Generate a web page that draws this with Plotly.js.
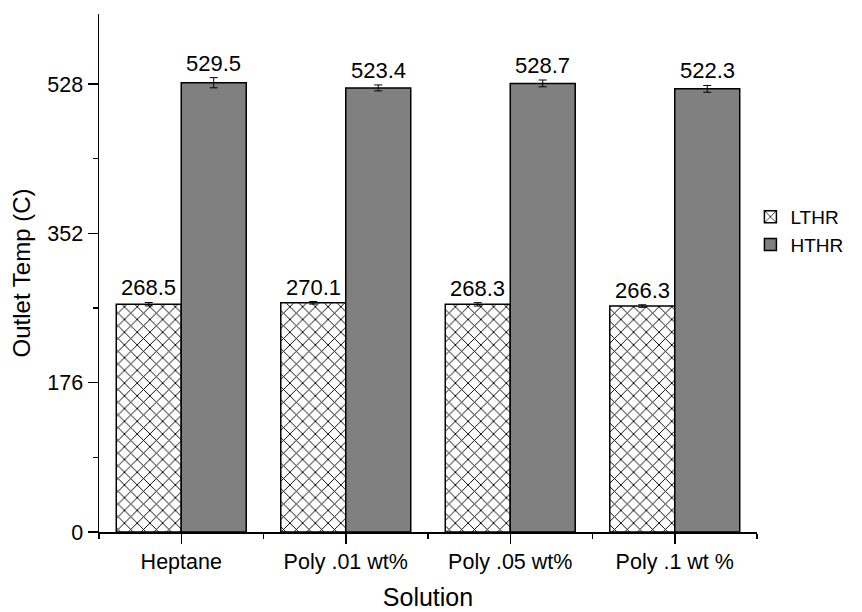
<!DOCTYPE html>
<html>
<head>
<meta charset="utf-8">
<script src="https://cdn.plot.ly/plotly-3.0.1.min.js"></script>
<style>html,body{margin:0;padding:0;background:#fff;}#chart{width:862px;height:612px;}</style>
</head>
<body>
<div id="chart"></div>
<script>
var categories = ["Heptane", "Poly .01 wt%", "Poly .05 wt%", "Poly .1 wt %"];
var lthrValues = [268.5, 270.1, 268.3, 266.3];
var lthrErrors = [2.0, 1.5, 2.0, 1.5];
var hthrValues = [529.5, 523.4, 528.7, 522.3];
var hthrErrors = [6.0, 3.5, 4.0, 4.0];
var yTickVals = [0, 176, 352, 528];

var FONT = "Liberation Sans, Arial, sans-serif";
var bargap = 0.21;
var idx = categories.map(function(c, i){ return i; });
var half = (1 - bargap) / 4;

var traces = [
  {
    type: "bar", name: "LTHR", x: idx, y: lthrValues,
    marker: {color: "white", line: {color: "black", width: 1.5},
      pattern: {shape: "x", fgcolor: "black", bgcolor: "white", size: 9, solidity: 0.2}},
    error_y: {type: "data", array: lthrErrors, color: "black", thickness: 1, width: 4},
    hoverinfo: "none"
  },
  {
    type: "bar", name: "HTHR", x: idx, y: hthrValues,
    marker: {color: "#808080", line: {color: "black", width: 1.5}},
    error_y: {type: "data", array: hthrErrors, color: "black", thickness: 1, width: 4},
    hoverinfo: "none"
  }
];

var annotations = [];
function addLabels(vals, errs, off) {
  vals.forEach(function(v, i){
    annotations.push({
      x: i + off, y: v + errs[i], xref: "x", yref: "y",
      text: v.toFixed(1), showarrow: false, yanchor: "bottom", yshift: 0,
      font: {family: FONT, size: 22, color: "black"}
    });
  });
}
addLabels(lthrValues, lthrErrors, -half);
addLabels(hthrValues, hthrErrors, half);

var layout = {
  width: 862, height: 612,
  margin: {l: 99, r: 105, t: 14, b: 80},
  paper_bgcolor: "white", plot_bgcolor: "white",
  barmode: "group", bargap: bargap, bargroupgap: 0,
  font: {family: FONT, color: "black"},
  showlegend: true,
  legend: {x: 0.99, xanchor: "left", y: 0.645, yanchor: "top",
    font: {family: FONT, size: 19, color: "black"}, tracegroupgap: 0, itemwidth: 30,
    bgcolor: "rgba(0,0,0,0)"},
  xaxis: {
    range: [-0.5, 3.5], tickmode: "array", tickvals: idx, ticktext: categories,
    showline: true, linecolor: "black", linewidth: 1.5, showgrid: false, zeroline: false,
    ticks: "outside", ticklen: 10, tickwidth: 1.5, tickcolor: "black",
    tickfont: {family: FONT, size: 21.5, color: "black"},
    minor: {tickmode: "linear", tick0: -0.5, dtick: 1, ticks: "outside", ticklen: 5, tickwidth: 1.5, tickcolor: "black", showgrid: false},
    title: {text: "Solution", font: {family: FONT, size: 25, color: "black"}, standoff: 15},
    fixedrange: true
  },
  yaxis: {
    range: [0, 610.5], tickmode: "array", tickvals: yTickVals,
    showline: true, linecolor: "black", linewidth: 1.5, showgrid: false, zeroline: false,
    ticks: "outside", ticklen: 10, tickwidth: 1.5, tickcolor: "black",
    tickfont: {family: FONT, size: 21.5, color: "black"},
    minor: {tickmode: "linear", tick0: 0, dtick: 88, ticks: "outside", ticklen: 5, tickwidth: 1.5, tickcolor: "black", showgrid: false},
    title: {text: "Outlet Temp (C)", font: {family: FONT, size: 24, color: "black"}, standoff: 10},
    fixedrange: true
  },
  annotations: annotations
};

Plotly.newPlot("chart", traces, layout, {displayModeBar: false, staticPlot: true});
</script>
</body>
</html>
